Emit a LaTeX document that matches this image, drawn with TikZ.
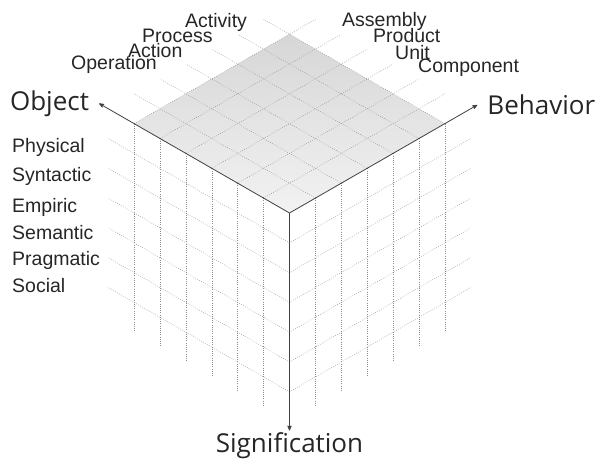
\documentclass[tikz,border=0pt]{standalone}
\usepackage{fontspec}
\setmainfont{Liberation Sans}
\newfontfamily\axisfont{Open Sans}
\usetikzlibrary{arrows,positioning}

\tikzset{
  gridline/.style={black!45, line width=0.45pt, dash pattern=on 0.7pt off 1.5pt},
  axisline/.style={->, black!75, line width=0.8pt},
  lab/.style={anchor=base west, inner sep=0pt, text=black!85,
    font=\fontsize{19.5}{20}\selectfont},
  axlab/.style={inner sep=0pt, text=black!85,
    font=\axisfont\fontsize{26}{27}\selectfont},
}

\begin{document}
\begin{tikzpicture}[>=stealth', x={(-25.9pt,14.9pt)}, y={(25.9pt,14.9pt)},
    z={(0pt,-29.8pt)}]
  \useasboundingbox (-289.5pt,213pt) rectangle (308.5pt,-248pt);
  % top face
  \shade[top color=black!16, bottom color=black!5]
    (0,0,0) -- (6,0,0) -- (6,6,0) -- (0,6,0) -- cycle;
  % dotted grid on the three faces
  \foreach \i in {1,...,6} {
    \draw[gridline] (\i,0,0) -- (\i,7,0);
    \draw[gridline] (0,\i,0) -- (7,\i,0);
    \draw[gridline] (\i,0,0) -- (\i,0,7);
    \draw[gridline] (0,0,\i) -- (7,0,\i);
    \draw[gridline] (0,\i,0) -- (0,\i,7);
    \draw[gridline] (0,0,\i) -- (0,7,\i);
  }
  % axes
  \coordinate (O) at (0,0,0);
  \coordinate (obj) at (7.35,0,0);
  \coordinate (beh) at (0,7.25,0);
  \coordinate (sig) at (0,0,7.3);
  \draw[axisline] (O) -- (obj);
  \draw[axisline] (O) -- (beh);
  \draw[axisline] (O) -- (sig);
  \foreach \i in {1,...,6}
    \fill[black!70] (\i,0,0) circle (0.7pt) (0,\i,0) circle (0.7pt)
      (0,0,\i) circle (0.7pt);

  \node[axlab, left=10pt of obj]   (object)   {Object};
  \node[axlab, right=10pt of beh]  (behavior) {Behavior};
  \node[axlab, below=2pt of sig]   (signif)   {Signification};

  % object levels
  \node[lab] (activity)  at (-104.5pt,185pt) {Activity};
  \node[lab] (process)   at (-147.5pt,170pt) {Process};
  \node[lab] (action)    at (-161.5pt,155pt) {Action};
  \node[lab] (operation) at (-218.5pt,143pt) {Operation};
  % behavior levels
  \node[lab] (assembly)  at (52.5pt,186pt)  {Assembly};
  \node[lab] (product)   at (83.5pt,170pt)  {Product};
  \node[lab] (unit)      at (105.5pt,153pt) {Unit};
  \node[lab] (component) at (128.5pt,140pt) {Component};
  % signification levels
  \node[lab] (physical) at (-277.5pt,60pt) {Physical};
  \node[lab, below=29pt of physical.base west, anchor=base west] (syntactic) {Syntactic};
  \node[lab, below=30pt of syntactic.base west, anchor=base west] (empiric) {Empiric};
  \node[lab, below=28pt of empiric.base west, anchor=base west] (semantic) {Semantic};
  \node[lab, below=25pt of semantic.base west, anchor=base west] (pragmatic) {Pragmatic};
  \node[lab, below=27pt of pragmatic.base west, anchor=base west] (social) {Social};
\end{tikzpicture}
\end{document}
